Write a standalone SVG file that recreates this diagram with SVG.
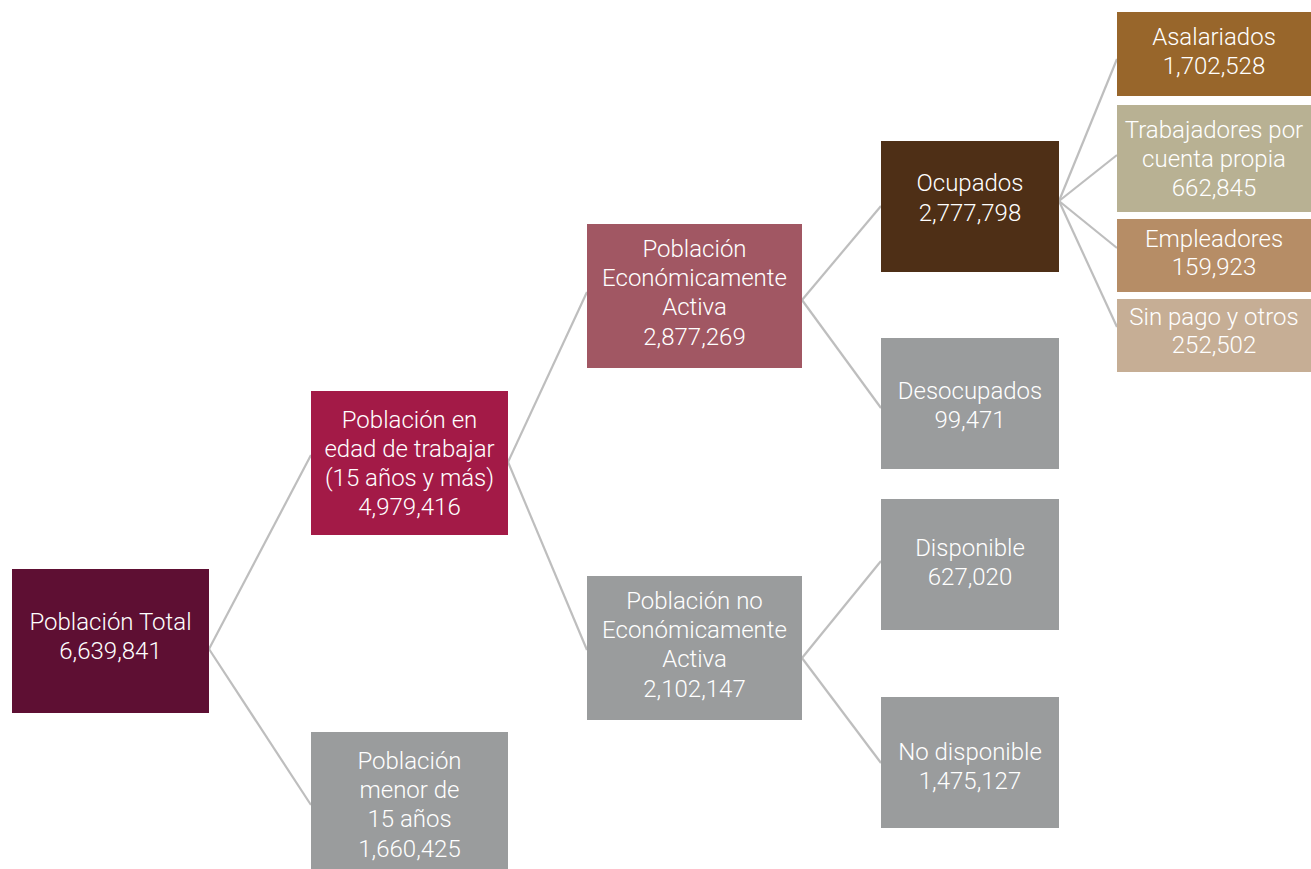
<svg xmlns="http://www.w3.org/2000/svg" width="1311" height="869" viewBox="0 0 1311 869">
<style>
.t{font-family:Roboto,"Liberation Sans",sans-serif;font-weight:300;font-size:24px;fill:#ffffff;text-anchor:middle}
.c line{stroke:#BEBEBE;stroke-width:2.2;fill:none}
</style>
<rect width="1311" height="869" fill="#ffffff"/>
<g class="c" id="connectors">
<line x1="209" y1="649" x2="311" y2="455"/>
<line x1="209" y1="649" x2="311" y2="805"/>
<line x1="508" y1="462" x2="587" y2="292"/>
<line x1="508" y1="462" x2="587" y2="650"/>
<line x1="802" y1="300" x2="881" y2="206"/>
<line x1="802" y1="300" x2="881" y2="408"/>
<line x1="802" y1="658" x2="881" y2="561"/>
<line x1="802" y1="658" x2="881" y2="763"/>
<line x1="1059" y1="201" x2="1117" y2="59"/>
<line x1="1059" y1="201" x2="1117" y2="155"/>
<line x1="1059" y1="201" x2="1117" y2="248"/>
<line x1="1059" y1="201" x2="1117" y2="327"/>
</g>
<g id="total"><rect x="12" y="569" width="197" height="144" fill="#5E0F33"/>
<text class="t" x="110.5" y="630">Población Total</text><text class="t" x="110.5" y="659">6,639,841</text></g>
<g id="edad"><rect x="311" y="391" width="197" height="144" fill="#A31A47"/>
<text class="t" x="409.5" y="428">Población en</text><text class="t" x="409.5" y="457">edad de trabajar</text><text class="t" x="409.5" y="486">(15 años y más)</text><text class="t" x="409.5" y="515">4,979,416</text></g>
<g id="menor"><rect x="311" y="732" width="197" height="137" fill="#9A9C9D"/>
<text class="t" x="409.5" y="769">Población</text><text class="t" x="409.5" y="798">menor de</text><text class="t" x="409.5" y="827">15 años</text><text class="t" x="409.5" y="857">1,660,425</text></g>
<g id="pea"><rect x="587" y="224" width="215" height="144" fill="#A15763"/>
<text class="t" x="694.5" y="257">Población</text><text class="t" x="694.5" y="286">Económicamente</text><text class="t" x="694.5" y="315">Activa</text><text class="t" x="694.5" y="345">2,877,269</text></g>
<g id="pnea"><rect x="587" y="576" width="215" height="144" fill="#9A9C9D"/>
<text class="t" x="694.5" y="609">Población no</text><text class="t" x="694.5" y="638">Económicamente</text><text class="t" x="694.5" y="667">Activa</text><text class="t" x="694.5" y="697">2,102,147</text></g>
<g id="ocupados"><rect x="881" y="141" width="178" height="131" fill="#4E2F16"/>
<text class="t" x="970" y="191">Ocupados</text><text class="t" x="970" y="221">2,777,798</text></g>
<g id="desocupados"><rect x="881" y="338" width="178" height="131" fill="#9A9C9D"/>
<text class="t" x="970" y="399">Desocupados</text><text class="t" x="970" y="428">99,471</text></g>
<g id="disponible"><rect x="881" y="499" width="178" height="131" fill="#9A9C9D"/>
<text class="t" x="970" y="556">Disponible</text><text class="t" x="970" y="585">627,020</text></g>
<g id="nodisponible"><rect x="881" y="697" width="178" height="131" fill="#9A9C9D"/>
<text class="t" x="970" y="760">No disponible</text><text class="t" x="970" y="789">1,475,127</text></g>
<g id="asalariados"><rect x="1117" y="12" width="194" height="84" fill="#98662B"/>
<text class="t" x="1214" y="45">Asalariados</text><text class="t" x="1214" y="74">1,702,528</text></g>
<g id="trabajadores"><rect x="1117" y="105" width="194" height="107" fill="#B8B193"/>
<text class="t" x="1214" y="138">Trabajadores por</text><text class="t" x="1214" y="167">cuenta propia</text><text class="t" x="1214" y="196">662,845</text></g>
<g id="empleadores"><rect x="1117" y="219" width="194" height="73" fill="#B68D66"/>
<text class="t" x="1214" y="247">Empleadores</text><text class="t" x="1214" y="275">159,923</text></g>
<g id="sinpago"><rect x="1117" y="299" width="194" height="73" fill="#C6AE95"/>
<text class="t" x="1214" y="325">Sin pago y otros</text><text class="t" x="1214" y="353">252,502</text></g>
</svg>
